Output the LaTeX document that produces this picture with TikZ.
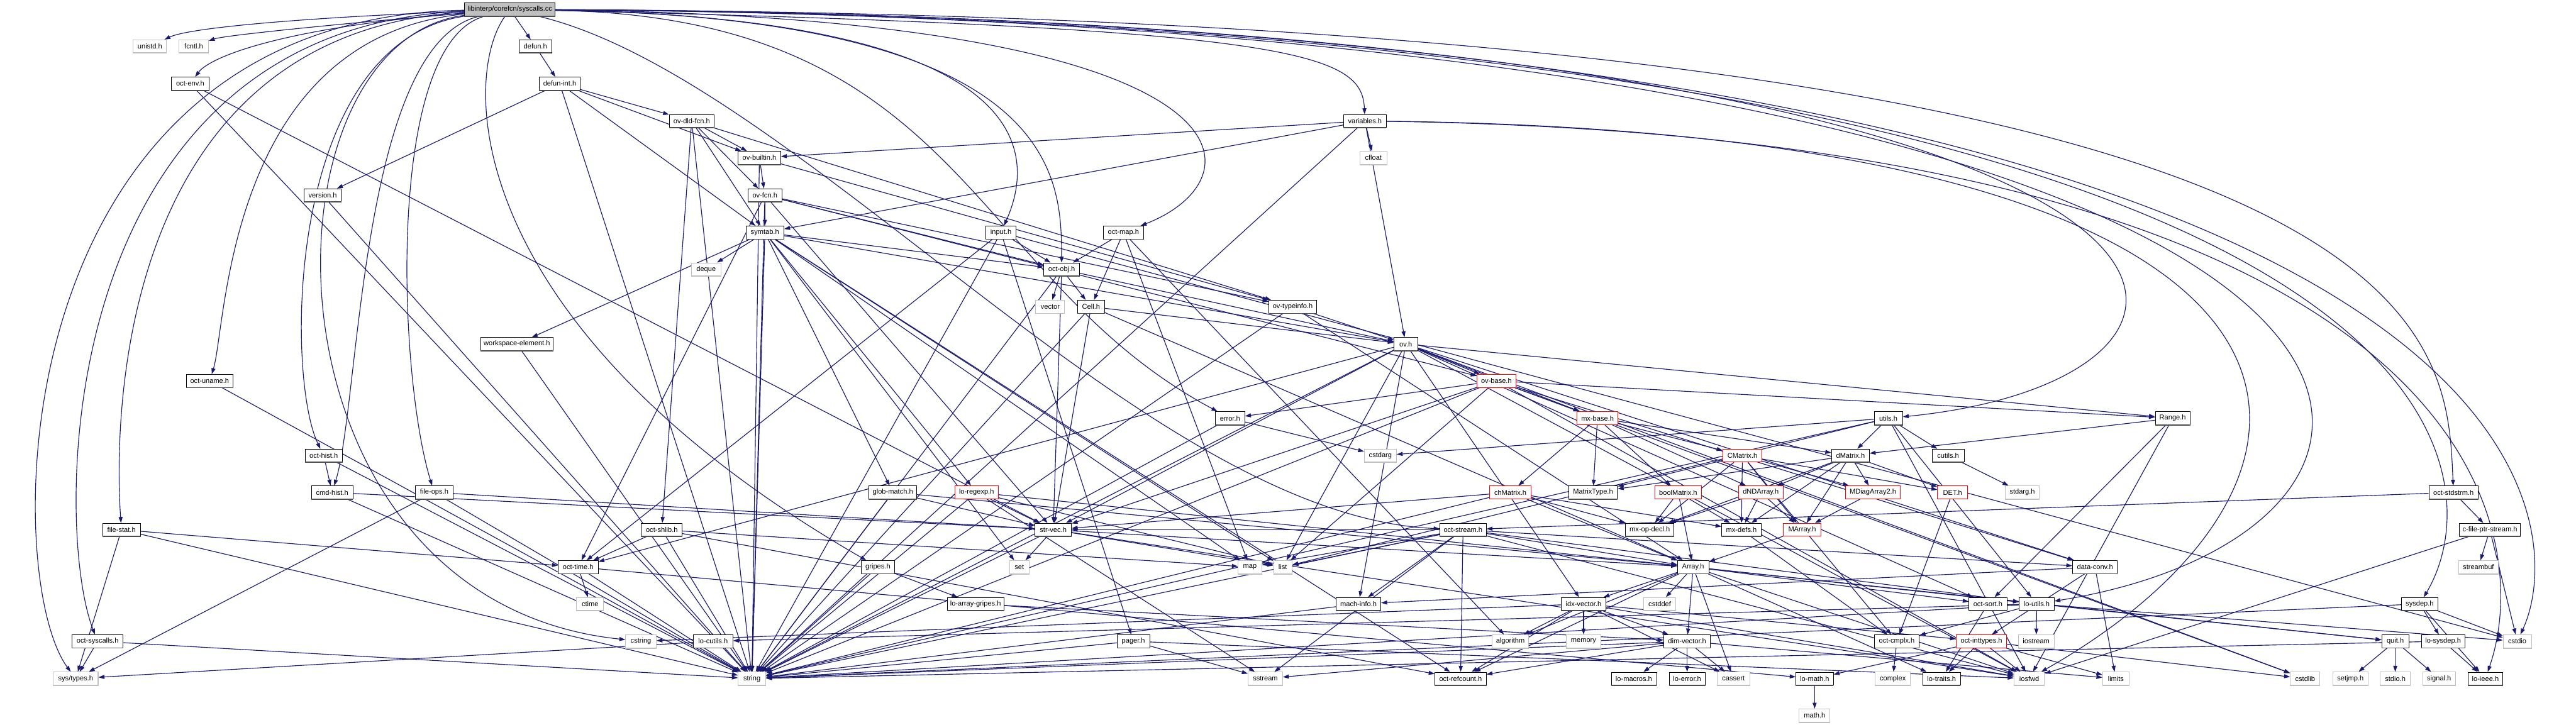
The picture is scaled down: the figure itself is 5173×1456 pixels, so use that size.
\documentclass[tikz,border=0pt]{standalone}
\usepackage{fontspec}
\setmainfont{Liberation Sans}
\usetikzlibrary{arrows.meta,backgrounds}
\definecolor{edgec}{HTML}{191970}
\definecolor{extgray}{HTML}{BFBFBF}
\begin{document}
\begin{tikzpicture}[x=1pt,y=1pt,
  every node/.style={font=\fontsize{14}{16}\selectfont, minimum height=26pt, inner xsep=3pt, inner ysep=0pt, rectangle},
  nb/.style={draw=black, line width=1pt, fill=white,
     append after command={(\tikzlastnode.south west) edge[draw=black!70, line width=2.2pt, -] (\tikzlastnode.south east)}},
  ng/.style={draw=extgray, line width=1.3pt, fill=white,
     append after command={(\tikzlastnode.south west) edge[draw=extgray, line width=2.2pt, -] (\tikzlastnode.south east)}},
  nr/.style={draw=red, line width=1.2pt, fill=white},
  e/.style={draw=edgec, line width=1.45pt, -{Triangle[length=12pt,width=8pt]}}
]
\useasboundingbox (0,0) rectangle (5173,1456);
% ---------------- nodes ----------------
\node[nb, fill=extgray, minimum width=182] (root) at (1024,1437) {libinterp/corefcn/syscalls.cc};
% row 1363
\node[ng, minimum width=67] (unistd) at (301,1363) {unistd.h};
\node[ng, minimum width=59] (fcntl) at (389,1363) {fcntl.h};
\node[nb, minimum width=65] (defun) at (1075,1363) {defun.h};
% row 1288
\node[nb, minimum width=75] (octenv) at (382,1288) {oct-env.h};
\node[nb, minimum width=82] (defunint) at (1124,1288) {defun-int.h};
% row 1213
\node[nb, minimum width=90] (ovdld) at (1389,1213) {ov-dld-fcn.h};
\node[nb, minimum width=85] (variables) at (2741,1213) {variables.h};
% row 1139
\node[nb, minimum width=85] (ovbuiltin) at (1525,1139) {ov-builtin.h};
\node[ng, minimum width=55] (cfloat) at (2758,1139) {cfloat};
% row 1064
\node[nb, minimum width=74] (version) at (648,1064) {version.h};
\node[nb, minimum width=69] (ovfcn) at (1536,1064) {ov-fcn.h};
% row 989
\node[nb, minimum width=76] (symtab) at (1536,989) {symtab.h};
\node[nb, minimum width=61] (input) at (2010,989) {input.h};
\node[nb, minimum width=80] (octmap) at (2256,989) {oct-map.h};
% row 915
\node[ng, minimum width=59] (deque) at (1418,915) {deque};
\node[nb, minimum width=72] (octobj) at (2132,915) {oct-obj.h};
% row 840
\node[ng, minimum width=58] (vector) at (2109,840) {vector};
\node[nb, minimum width=55] (cell) at (2191,840) {Cell.h};
\node[nb, minimum width=96] (ovtypeinfo) at (2596,840) {ov-typeinfo.h};
% row 765
\node[nb, minimum width=145] (wse) at (1038,765) {workspace-element.h};
\node[nb, minimum width=47] (ov) at (2823,765) {ov.h};
% row 691
\node[nb, minimum width=93] (octuname) at (421,691) {oct-uname.h};
\node[nr, minimum width=78] (ovbase) at (3005,691) {ov-base.h};
% row 616
\node[nb, minimum width=59] (error) at (2470,616) {error.h};
\node[nr, minimum width=82] (mxbase) at (3208,616) {mx-base.h};
\node[nb, minimum width=57] (utils) at (3792,616) {utils.h};
\node[nb, minimum width=70] (range) at (4363,616) {Range.h};
% row 541
\node[nb, minimum width=75] (octhist) at (650,541) {oct-hist.h};
\node[ng, minimum width=64] (cstdarg) at (2772,541) {cstdarg};
\node[nr, minimum width=78] (cmatrix) at (3499,541) {CMatrix.h};
\node[nb, minimum width=76] (dmatrix) at (3716,541) {dMatrix.h};
\node[nb, minimum width=64] (cutils) at (3912,541) {cutils.h};
% row 467
\node[nb, minimum width=83] (cmdhist) at (667,467) {cmd-hist.h};
\node[nb, minimum width=75] (fileops) at (872,467) {file-ops.h};
\node[nb, minimum width=96] (globmatch) at (1793,467) {glob-match.h};
\node[nr, minimum width=87] (loregexp) at (1961,467) {lo-regexp.h};
\node[nr, minimum width=83] (chmatrix) at (3033,467) {chMatrix.h};
\node[nb, minimum width=98] (matrixtype) at (3199,467) {MatrixType.h};
\node[nr, minimum width=93] (boolmatrix) at (3370,467) {boolMatrix.h};
\node[nr, minimum width=90] (dndarray) at (3536,467) {dNDArray.h};
\node[nr, minimum width=109] (mdiag) at (3761,467) {MDiagArray2.h};
\node[nr, minimum width=60] (det) at (3921,467) {DET.h};
\node[ng, minimum width=68] (stdarg) at (4061,467) {stdarg.h};
\node[nb, minimum width=99] (octstdstrm) at (4927,467) {oct-stdstrm.h};
% row 392
\node[nb, minimum width=76] (filestat) at (244,392) {file-stat.h};
\node[nb, minimum width=82] (octshlib) at (1329,392) {oct-shlib.h};
\node[nb, minimum width=73] (strvec) at (2115,392) {str-vec.h};
\node[nb, minimum width=93] (octstream) at (2938,392) {oct-stream.h};
\node[nb, minimum width=97] (mxopdecl) at (3313,392) {mx-op-decl.h};
\node[nb, minimum width=79] (mxdefs) at (3497,392) {mx-defs.h};
\node[nr, minimum width=75] (marray) at (3619,392) {MArray.h};
\node[nb, minimum width=122] (cfps) at (5000,392) {c-file-ptr-stream.h};
% row 317
\node[nb, minimum width=80] (octtime) at (1161,317) {oct-time.h};
\node[nb, minimum width=68] (gripes) at (1763,317) {gripes.h};
\node[ng, minimum width=39] (set) at (2047,317) {set};
\node[ng, minimum width=47] (map) at (2510,317) {map};
\node[ng, minimum width=37] (list) at (2576,317) {list};
\node[nb, minimum width=63] (array) at (3400,317) {Array.h};
\node[nb, minimum width=90] (dataconv) at (4207,317) {data-conv.h};
\node[ng, minimum width=79] (streambuf) at (4977,317) {streambuf};
% row 243
\node[ng, minimum width=54] (ctime) at (1185,243) {ctime};
\node[nb, minimum width=114] (loarraygripes) at (1959,243) {lo-array-gripes.h};
\node[nb, minimum width=90] (machinfo) at (2728,243) {mach-info.h};
\node[nb, minimum width=90] (idxvector) at (3180,243) {idx-vector.h};
\node[ng, minimum width=64] (cstddef) at (3333,243) {cstddef};
\node[nb, minimum width=76] (octsort) at (3992,243) {oct-sort.h};
\node[nb, minimum width=70] (loutils) at (4090,243) {lo-utils.h};
\node[nb, minimum width=73] (sysdep) at (4859,243) {sysdep.h};
% row 168
\node[nb, minimum width=102] (octsyscalls) at (196,168) {oct-syscalls.h};
\node[ng, minimum width=61] (cstring) at (1287,168) {cstring};
\node[nb, minimum width=79] (locutils) at (1432,168) {lo-cutils.h};
\node[nb, minimum width=65] (pager) at (2276,168) {pager.h};
\node[ng, minimum width=74] (algorithm) at (3033,168) {algorithm};
\node[ng, minimum width=69] (memory) at (3180,168) {memory};
\node[nb, minimum width=94] (dimvector) at (3388,168) {dim-vector.h};
\node[nb, minimum width=90] (octcmplx) at (3809,168) {oct-cmplx.h};
\node[nr, minimum width=101] (octinttypes) at (3979,168) {oct-inttypes.h};
\node[ng, minimum width=72] (iostream) at (4089,168) {iostream};
\node[nb, minimum width=54] (quit) at (4810,168) {quit.h};
\node[nb, minimum width=87] (losysdep) at (4906,168) {lo-sysdep.h};
\node[ng, minimum width=57] (cstdio) at (5055,168) {cstdio};
% row 93
\node[ng, minimum width=90] (systypes) at (152,93) {sys/types.h};
\node[ng, minimum width=55] (string) at (1510,93) {string};
\node[ng, minimum width=69] (sstream) at (2541,93) {sstream};
\node[nb, minimum width=103] (octrefcount) at (2933,93) {oct-refcount.h};
\node[nb, minimum width=91] (lomacros) at (3281,93) {lo-macros.h};
\node[nb, minimum width=72] (loerror) at (3388,93) {lo-error.h};
\node[ng, minimum width=65] (cassert) at (3481,93) {cassert};
\node[nb, minimum width=75] (lomath) at (3644,93) {lo-math.h};
\node[ng, minimum width=70] (complex) at (3801,93) {complex};
\node[nb, minimum width=75] (lotraits) at (3899,93) {lo-traits.h};
\node[ng, minimum width=61] (iosfwd) at (4075,93) {iosfwd};
\node[ng, minimum width=53] (limits) at (4249,93) {limits};
\node[ng, minimum width=59] (cstdlib) at (4629,93) {cstdlib};
\node[ng, minimum width=71] (setjmp) at (4720,93) {setjmp.h};
\node[ng, minimum width=61] (stdioh) at (4810,93) {stdio.h};
\node[ng, minimum width=65] (signal) at (4898,93) {signal.h};
\node[nb, minimum width=70] (loieee) at (4991,93) {lo-ieee.h};
% row 19
\node[ng, minimum width=62] (mathh) at (3644,19) {math.h};
% ---------------- edges ----------------
\begin{pgfonlayer}{background}
\fill[white] (0,0) rectangle (5173,1456);
% root edges
\draw[e] (root) .. controls (0,1420) and (0,300) .. (systypes);
\draw[e] (root) .. controls (106,1400) and (106,400) .. (octsyscalls);
\draw[e] (root) .. controls (229,1390) and (229,600) .. (filestat);
\draw[e] (root) .. controls (600,1420) and (380,1400) .. (unistd);
\draw[e] (root) .. controls (700,1410) and (450,1385) .. (fcntl);
\draw[e] (root) .. controls (560,1400) and (420,1340) .. (octenv);
\draw[e] (root) .. controls (455,1380) and (455,800) .. (octuname);
\draw[e] (root) .. controls (506,1370) and (506,250) .. (cstring);
\draw[e] (root) .. controls (573,1370) and (573,700) .. (octhist);
\draw[e] (root) .. controls (723,1370) and (723,650) .. (cmdhist);
\draw[e] (root) .. controls (773,1370) and (800,700) .. (fileops);
\draw[e] (root) .. controls (925,1300) and (925,800) .. (gripes);
\draw[e] (root) -- (defun);
\draw[e] (root) .. controls (1941,1420) and (1941,900) .. (error);
\draw[e] (root) .. controls (2082,1420) and (2082,1150) .. (input);
\draw[e] (root) .. controls (2131,1420) and (2131,1100) .. (octobj);
\draw[e] (root) .. controls (2540,1420) and (2540,1100) .. (octmap);
\draw[e] (root) .. controls (2600,1400) and (2735,1350) .. (variables);
\draw[e] (root) .. controls (1600,1300) and (2300,420) .. (octstream);
\draw[e] (root) .. controls (4638,1420) and (4638,700) .. (utils);
\draw[e] (root) .. controls (4912,1420) and (4912,800) .. (octstdstrm);
\draw[e] (root) .. controls (5013,1410) and (5013,500) .. (sysdep);
\draw[e] (root) .. controls (5064,1410) and (5064,400) .. (loutils);
\draw[e] (root) .. controls (5163,1420) and (5163,400) .. (cstdio);
\draw[e] (variables) .. controls (4789,1190) and (4789,500) .. (iosfwd);
\draw[e] (variables) .. controls (4963,1180) and (5097,400) .. (loieee);
% remaining edges
\foreach \a/\b in {defun/defunint,
 defunint/ovbuiltin, defunint/ovdld, defunint/symtab, defunint/version, defunint/string,
 version/string, octenv/string, octenv/strvec, octuname/string,
 octsyscalls/systypes, octsyscalls/string,
 filestat/octtime, filestat/systypes, filestat/string,
 fileops/systypes, fileops/string, fileops/strvec,
 cmdhist/string, cmdhist/strvec, octhist/cmdhist, octhist/string,
 octtime/ctime, octtime/string, octtime/lomath,
 octshlib/octtime, octshlib/map, octshlib/string, octshlib/octrefcount,
 ovdld/string, ovdld/octshlib, ovdld/ovfcn, ovdld/ovbuiltin, ovdld/ovtypeinfo, ovdld/symtab,
 ovbuiltin/ovfcn, ovbuiltin/string, ovbuiltin/ovtypeinfo,
 ovfcn/symtab, ovfcn/string, ovfcn/octtime, ovfcn/strvec, ovfcn/octobj, ovfcn/ovbase, ovfcn/ovtypeinfo,
 symtab/deque, symtab/list, symtab/map, symtab/set, symtab/string, symtab/globmatch, symtab/loregexp,
 symtab/octobj, symtab/wse, symtab/octrefcount, symtab/ov,
 input/cstdio, input/string, input/octtime, input/octobj, input/pager,
 octmap/octobj, octmap/cell, octmap/map, octmap/algorithm,
 octobj/string, octobj/vector, octobj/strvec, octobj/cell, octobj/ov,
 cell/string, cell/strvec, cell/ov, cell/array,
 ovtypeinfo/ov, ovtypeinfo/array, ovtypeinfo/string, wse/string,
 variables/cfloat, variables/string, variables/ov, variables/ovbuiltin, variables/symtab,
 ov/cstdlib, ov/iosfwd, ov/string, ov/list, ov/range, ov/dataconv, ov/idxvector, ov/machinfo,
 ov/mxbase, ov/octtime, ov/strvec, ov/octsort, ov/ovbase,
 ovbase/cstdlib, ovbase/iosfwd, ovbase/list, ovbase/string, ovbase/range, ovbase/dataconv,
 ovbase/mxbase, ovbase/strvec, ovbase/error,
 mxbase/chmatrix, mxbase/matrixtype, mxbase/boolmatrix, mxbase/dndarray, mxbase/cmatrix, mxbase/dmatrix,
 cmatrix/marray, cmatrix/mdiag, cmatrix/matrixtype, cmatrix/mxdefs, cmatrix/mxopdecl, cmatrix/octcmplx, cmatrix/det,
 dmatrix/dndarray, dmatrix/marray, dmatrix/mdiag, dmatrix/matrixtype, dmatrix/mxdefs, dmatrix/mxopdecl, dmatrix/det,
 utils/cstdarg, utils/iosfwd, utils/string, utils/list, utils/dmatrix, utils/loutils, utils/cutils,
 range/dmatrix, range/octsort, range/iosfwd, cutils/stdarg, error/cstdarg, error/string,
 chmatrix/array, chmatrix/mxdefs, chmatrix/mxopdecl, chmatrix/strvec, chmatrix/string,
 boolmatrix/mxopdecl, boolmatrix/array, boolmatrix/mxdefs,
 dndarray/mxopdecl, dndarray/mxdefs, dndarray/marray,
 mdiag/marray, det/octcmplx, marray/array, mxdefs/octcmplx,
 octstream/iosfwd, octstream/sstream, octstream/string, octstream/list, octstream/map, octstream/array,
 octstream/dataconv, octstream/loutils, octstream/machinfo, octstream/octrefcount, octstream/strvec,
 octstdstrm/octstream, octstdstrm/cfps, cfps/streambuf, cfps/cstdio, cfps/iosfwd,
 strvec/iosfwd, strvec/list, strvec/set, strvec/string, strvec/array,
 array/cassert, array/cstddef, array/algorithm, array/iosfwd, array/dimvector, array/idxvector,
 array/lotraits, array/loutils, array/octsort, array/quit, array/octrefcount,
 idxvector/cassert, idxvector/cstring, idxvector/algorithm, idxvector/iosfwd, idxvector/memory,
 idxvector/dimvector, idxvector/octinttypes, idxvector/octrefcount,
 dimvector/cassert, dimvector/limits, dimvector/sstream, dimvector/string, dimvector/loerror,
 dimvector/lomacros, dimvector/octrefcount,
 machinfo/string, octcmplx/complex, lomath/mathh,
 octinttypes/cstdlib, octinttypes/limits, octinttypes/iosfwd, octinttypes/lotraits, octinttypes/lomath,
 octsort/lotraits,
 loutils/cstdio, loutils/iostream, loutils/string, loutils/octcmplx, loutils/quit, loutils/locutils,
 locutils/systypes, dataconv/limits, dataconv/machinfo, dataconv/octinttypes,
 sysdep/cstdio, sysdep/string, sysdep/loieee, sysdep/losysdep,
 quit/setjmp, quit/stdioh, quit/signal, losysdep/string, losysdep/loieee,
 pager/iosfwd, pager/sstream, pager/string,
 globmatch/string, globmatch/array, globmatch/strvec,
 loregexp/list, loregexp/sstream, loregexp/string, loregexp/array, loregexp/strvec,
 gripes/string, gripes/loarraygripes, loarraygripes/dimvector}
 { \draw[e] (\a) -- (\b); }
\end{pgfonlayer}
\end{tikzpicture}
\end{document}
